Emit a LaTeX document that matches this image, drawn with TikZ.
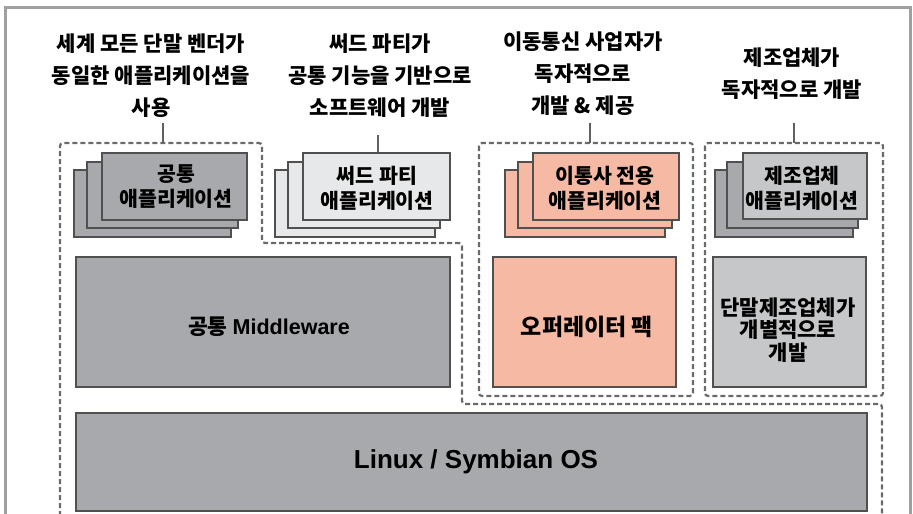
\documentclass[tikz,border=0pt]{standalone}
\usepackage{fontspec}
\setmainfont{Noto Sans CJK KR}
\newfontfamily\lat{Liberation Sans}
\definecolor{dgray}{HTML}{A7A9AC}
\definecolor{lgray}{HTML}{E7E8E9}
\definecolor{mgray}{HTML}{C6C7C9}
\definecolor{salmon}{HTML}{F6BAA4}
\definecolor{edgec}{HTML}{505050}
\definecolor{dashc}{HTML}{6A6A6A}
\definecolor{framec}{HTML}{A0A0A0}
\definecolor{leadc}{HTML}{606060}
\begin{document}
\begin{tikzpicture}[x=1pt,y=-1pt,
  card/.style={draw=edgec, line width=1.6pt},
  grp/.style={draw=dashc, line width=2.2pt, dash pattern=on 5pt off 3pt, rounded corners=3pt},
  leader/.style={draw=leadc, line width=1.8pt},
  lbl/.style={font=\fontsize{21}{32}\selectfont\bfseries, align=center, inner sep=0pt},
  ctxt/.style={font=\fontsize{20.5}{25}\selectfont\bfseries, align=center, inner sep=0pt},
  btxt/.style={font=\fontsize{21}{22.5}\selectfont\bfseries, align=center, inner sep=0pt}]
\useasboundingbox (0,0) rectangle (913,514);
\fill[white] (0,0) rectangle (913,514);
% outer frame
\draw[framec, line width=3pt] (5,514) -- (5,7) -- (910,7) -- (910,514);

% dashed groups
\draw[grp] (60,516) -- (60,143) -- (262,143) -- (262,243) -- (462,243) -- (462,404) -- (882,404) -- (882,516);
\draw[grp] (479,143) rectangle (693,396);
\draw[grp] (705,143) rectangle (883,396);

% top labels
\node[lbl] (lab1) at (151,76) {세계 모든 단말 벤더가\\동일한 애플리케이션을\\사용};
\node[lbl] (lab2) at (380,76) {써드 파티가\\공통 기능을 기반으로\\소프트웨어 개발};
\node[lbl] (lab3) at (583,74) {이동통신 사업자가\\독자적으로\\개발 \& 제공};
\node[lbl] (lab4) at (792,74) {제조업체가\\독자적으로 개발};

% leaders
\coordinate (l1a) at (163,123); \coordinate (l1b) at (163,143);
\coordinate (l2a) at (378,135); \coordinate (l2b) at (378,153);
\coordinate (l3a) at (590,123); \coordinate (l3b) at (590,143);
\coordinate (l4a) at (794,123); \coordinate (l4b) at (794,143);
\draw[leader] (l1a) -- (l1b);
\draw[leader] (l2a) -- (l2b);
\draw[leader] (l3a) -- (l3b);
\draw[leader] (l4a) -- (l4b);

% common app stack
\draw[card, fill=dgray] (74,170) rectangle (231,237);
\draw[card, fill=dgray] (87,162) rectangle (238,228);
\draw[card, fill=dgray] (102,153) rectangle (247,220);
\node[ctxt] (c1) at (176,187) {공통\\애플리케이션};

% third party stack
\draw[card, fill=lgray] (275,170) rectangle (435,237);
\draw[card, fill=lgray] (288,162) rectangle (440,228);
\draw[card, fill=lgray] (303,153) rectangle (450,220);
\node[ctxt] (c2) at (377,188) {써드 파티\\애플리케이션};

% operator stack
\draw[card, fill=salmon] (505,170) rectangle (665,237);
\draw[card, fill=salmon] (518,162) rectangle (672,228);
\draw[card, fill=salmon] (533,153) rectangle (679,220);
\node[ctxt] (c3) at (605,188) {이통사 전용\\애플리케이션};

% manufacturer stack
\draw[card, fill=dgray] (715,170) rectangle (853,237);
\draw[card, fill=dgray] (727,162) rectangle (858,228);
\draw[card, fill=mgray] (743,153) rectangle (867,219);
\node[ctxt] (c4) at (802,188) {제조업체\\애플리케이션};

% middle layer boxes
\draw[card, fill=dgray] (76,257) rectangle (450,387);
\node[font=\fontsize{21.5}{25}\selectfont\bfseries, inner sep=0pt] (mw) at (269,327) {공통 {\lat\bfseries Middleware}};

\draw[card, fill=salmon] (493,257) rectangle (676,387);
\node[font=\fontsize{23}{25}\selectfont\bfseries, inner sep=0pt] (op) at (587,327) {오퍼레이터 팩};

\draw[card, fill=mgray] (713,257) rectangle (866,387);
\node[btxt] (mf) at (788,330) {단말제조업체가\\개별적으로\\개발};

% OS layer
\draw[card, fill=dgray] (76,413) rectangle (867,511);
\node[font=\fontsize{26}{30}\selectfont\lat\bfseries, inner sep=0pt] (os) at (476,462) {Linux / Symbian OS};
\end{tikzpicture}
\end{document}
